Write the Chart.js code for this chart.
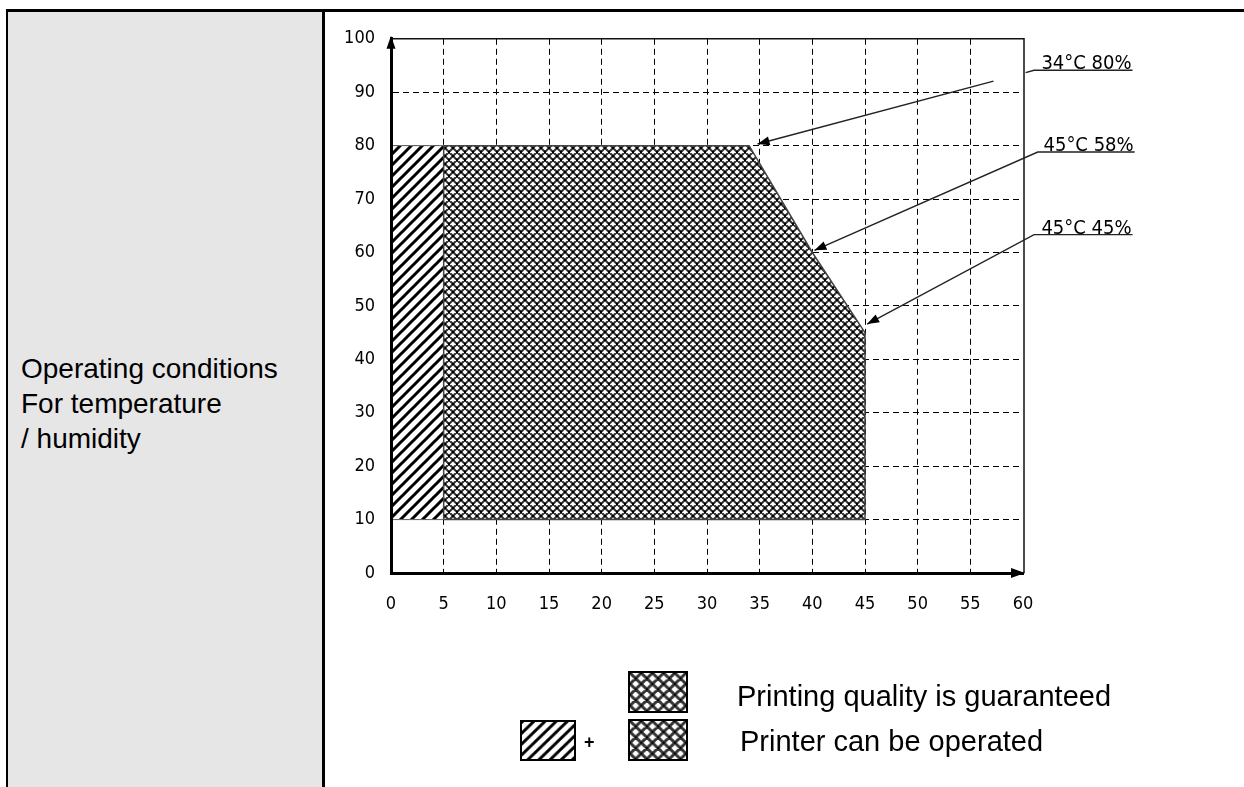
<!DOCTYPE html>
<html>
<head>
<meta charset="utf-8">
<script src="https://cdn.jsdelivr.net/npm/chart.js@4.4.1/dist/chart.umd.min.js"></script>
<style>
html,body{margin:0;padding:0;background:#fff;width:1244px;height:787px;overflow:hidden;position:relative;font-family:'Liberation Sans',Arial,sans-serif;color:#000;}
#topline{position:absolute;left:6px;top:9px;width:1238px;height:3px;background:#000;}
#leftline{position:absolute;left:6px;top:9px;width:2px;height:778px;background:#000;}
#panel{position:absolute;left:8px;top:12px;width:314px;height:775px;background:#e6e6e6;}
#divider{position:absolute;left:322px;top:9px;width:3px;height:778px;background:#000;}
#ptext{position:absolute;left:21px;top:351px;font-size:28px;line-height:35px;white-space:nowrap;}
#wrap{position:absolute;left:325px;top:12px;width:919px;height:775px;}
.ann{position:absolute;font-family:'Liberation Sans Narrow','DejaVu Sans Condensed','Liberation Sans',sans-serif;font-size:20px;line-height:20px;white-space:nowrap;transform:translate(-100%,0);}
.sw{position:absolute;box-sizing:border-box;border:2px solid #000;}
.ltext{position:absolute;font-size:29px;line-height:32px;white-space:nowrap;}
#plus{position:absolute;left:584px;top:733px;font-size:18px;font-weight:bold;line-height:18px;}
</style>
</head>
<body>
<div id="panel"></div>
<div id="topline"></div>
<div id="leftline"></div>
<div id="divider"></div>
<div id="ptext">Operating conditions<br>For temperature<br>/ humidity</div>
<div id="wrap"><canvas id="c" width="919" height="775"></canvas></div>
<canvas class="sw" id="sw1" width="60" height="42" style="left:628px;top:671px;width:60px;height:42px;"></canvas>
<canvas class="sw" id="sw3" width="56" height="41" style="left:520px;top:720px;width:56px;height:41px;"></canvas>
<canvas class="sw" id="sw2" width="60" height="42" style="left:628px;top:719px;width:60px;height:42px;"></canvas>
<div id="plus">+</div>
<div class="ltext" style="left:737px;top:680px;">Printing quality is guaranteed</div>
<div class="ltext" style="left:740px;top:725px;">Printer can be operated</div>
<script>
// ---- data ----
const xTicks = [0, 5, 10, 15, 20, 25, 30, 35, 40, 45, 50, 55, 60];
const yTicks = [0, 10, 20, 30, 40, 50, 60, 70, 80, 90, 100];
// "Printer can be operated" extra band (hatched)
const operatedX = [0, 0, 5, 5, 0];
const operatedY = [10, 80, 80, 10, 10];
// "Printing quality is guaranteed" region (cross-hatched)
const guaranteedX = [5, 5, 34, 40, 45, 45, 5];
const guaranteedY = [10, 80, 80, 60, 45, 10, 10];
// annotations
const annotationLabels = ['34°C 80%', '45°C 58%', '45°C 45%'];
const annotationTipX = [34.8, 40.2, 45.2];
const annotationTipY = [80.3, 60.4, 46.6];
const legendLabels = ['Printing quality is guaranteed', 'Printer can be operated'];

// ---- styling / layout (not data) ----
const tickFont = {family: "'Liberation Sans Narrow','DejaVu Sans Condensed','Liberation Sans',sans-serif", size: 18};
// leader-line elbows and underline ends in axis units (outside plot)
const leaderElbow = [[61.05, 94.1], [61.4, 78.8], [61.05, 63.35]];
const underlineEnd = [70.4, 70.6, 70.4];
const leaderGap = [[57.2, 60.25], null, null];

function makeCross(n, lw, col) {
  const c = document.createElement('canvas'); c.width = n; c.height = n;
  const g = c.getContext('2d');
  g.fillStyle = '#fff'; g.fillRect(0, 0, n, n);
  g.strokeStyle = col; g.lineWidth = lw;
  g.beginPath();
  for (const k of [-n, 0, n]) { g.moveTo(k - 2, -2); g.lineTo(k + n + 2, n + 2); }
  for (const k of [0, n, 2 * n]) { g.moveTo(k + 2, -2); g.lineTo(k - n - 2, n + 2); }
  g.stroke();
  g.fillStyle = '#000';
  const d = 2;
  [[0, 0], [n, 0], [0, n], [n, n], [n / 2, n / 2]].forEach(p => g.fillRect(p[0] - d / 2, p[1] - d / 2, d, d));
  return c;
}
function makeHatch(n, lw) {
  const c = document.createElement('canvas'); c.width = n; c.height = n;
  const g = c.getContext('2d');
  g.fillStyle = '#fff'; g.fillRect(0, 0, n, n);
  g.strokeStyle = '#000'; g.lineWidth = lw;
  g.beginPath();
  [[-2, n + 2, n + 2, -2], [-2, 2, 2, -2], [n - 2, n + 2, n + 2, n - 2]].forEach(s => { g.moveTo(s[0], s[1]); g.lineTo(s[2], s[3]); });
  g.stroke();
  return c;
}
const mainCtx = document.getElementById('c').getContext('2d');
const crossPattern = mainCtx.createPattern(makeCross(8, 2.1, '#333'), 'repeat');
const hatchPattern = mainCtx.createPattern(makeHatch(11, 3), 'repeat');

function fillSwatch(id, tile) {
  const cv = document.getElementById(id);
  const g = cv.getContext('2d');
  g.fillStyle = g.createPattern(tile, 'repeat');
  g.fillRect(0, 0, cv.width, cv.height);
}
fillSwatch('sw1', makeCross(12, 3.2, '#333'));
fillSwatch('sw2', makeCross(12, 3.2, '#333'));
fillSwatch('sw3', makeHatch(12, 3.2));

// annotation label elements
const annDivs = annotationLabels.map(t => {
  const d = document.createElement('div');
  d.className = 'ann'; d.textContent = t;
  document.getElementById('wrap').appendChild(d);
  return d;
});

function arrowHead(ctx, tx, ty, fx, fy, len, hw) {
  const ang = Math.atan2(ty - fy, tx - fx);
  const bx = tx - len * Math.cos(ang), by = ty - len * Math.sin(ang);
  ctx.beginPath();
  ctx.moveTo(tx, ty);
  ctx.lineTo(bx + hw * Math.sin(ang), by - hw * Math.cos(ang));
  ctx.lineTo(bx - hw * Math.sin(ang), by + hw * Math.cos(ang));
  ctx.closePath();
  ctx.fill();
}

const decorPlugin = {
  id: 'decor',
  afterDraw(chart) {
    const {ctx, chartArea: a, scales: {x, y}} = chart;
    ctx.save();
    // plot frame (top + right)
    ctx.strokeStyle = '#111'; ctx.lineWidth = 1.5;
    ctx.beginPath();
    ctx.moveTo(a.left, a.top); ctx.lineTo(a.right + 1, a.top); ctx.lineTo(a.right + 1, a.bottom);
    ctx.stroke();
    // axis arrows
    ctx.fillStyle = '#000';
    const x0 = x.getPixelForValue(xTicks[0]);
    const y0 = y.getPixelForValue(yTicks[0]);
    arrowHead(ctx, x0, a.top - 3, x0, a.top + 20, 13, 4.5);
    arrowHead(ctx, a.right + 2, y0, a.right - 20, y0, 14, 5);
    // leader lines
    ctx.strokeStyle = '#222'; ctx.lineWidth = 1.4; ctx.fillStyle = '#000';
    for (let i = 0; i < annotationLabels.length; i++) {
      const tx = x.getPixelForValue(annotationTipX[i]);
      const ty = y.getPixelForValue(annotationTipY[i]);
      const ex = x.getPixelForValue(leaderElbow[i][0]);
      const ey = y.getPixelForValue(leaderElbow[i][1]);
      const ux = x.getPixelForValue(underlineEnd[i]);
      ctx.beginPath();
      ctx.moveTo(tx, ty);
      if (leaderGap[i]) {
        const g1 = x.getPixelForValue(leaderGap[i][0]);
        const g2 = x.getPixelForValue(leaderGap[i][1]);
        const yAt = px => ty + (ey - ty) * (px - tx) / (ex - tx);
        ctx.lineTo(g1, yAt(g1));
        ctx.moveTo(g2, yAt(g2));
      }
      ctx.lineTo(ex, ey);
      ctx.lineTo(ux, ey);
      ctx.stroke();
      arrowHead(ctx, tx, ty, ex, ey, 12, 4.5);
      const d = annDivs[i];
      d.style.left = (ux - 1) + 'px';
      d.style.top = (ey - 18) + 'px';
    }
    ctx.restore();
  }
};

const gridColor = (max) => (c) => (c.tick && (c.tick.value === 0 || c.tick.value === max)) ? 'rgba(0,0,0,0)' : '#000';

new Chart(mainCtx, {
  type: 'scatter',
  data: {
    datasets: [
      {
        label: legendLabels[0],
        data: guaranteedX.map((v, i) => ({x: v, y: guaranteedY[i]})),
        showLine: true, fill: 'shape', tension: 0,
        backgroundColor: crossPattern, borderColor: '#444', borderWidth: 1.5,
        pointRadius: 0, pointHoverRadius: 0
      },
      {
        label: legendLabels[1],
        data: operatedX.map((v, i) => ({x: v, y: operatedY[i]})),
        showLine: true, fill: 'shape', tension: 0,
        backgroundColor: hatchPattern, borderColor: '#666', borderWidth: 1,
        pointRadius: 0, pointHoverRadius: 0
      }
    ]
  },
  options: {
    responsive: false,
    animation: false,
    devicePixelRatio: 1,
    layout: {padding: {left: 0, top: 18, right: 221, bottom: 174}},
    plugins: {legend: {display: false}, tooltip: {enabled: false}},
    scales: {
      x: {
        type: 'linear', min: 0, max: 60,
        afterBuildTicks: s => { s.ticks = xTicks.map(v => ({value: v})); },
        afterFit: s => { s.height = 40; },
        grid: {color: gridColor(60), lineWidth: 1, drawTicks: false},
        border: {display: true, color: '#000', width: 3, dash: [6, 4], z: 1},
        ticks: {color: '#000', font: tickFont, padding: 21, maxRotation: 0, autoSkip: false}
      },
      y: {
        type: 'linear', min: 0, max: 100,
        afterBuildTicks: s => { s.ticks = yTicks.map(v => ({value: v})); },
        afterFit: s => { s.width = 66; },
        grid: {color: gridColor(100), lineWidth: 1, drawTicks: false},
        border: {display: true, color: '#000', width: 3, dash: [6, 4], z: 1},
        ticks: {color: '#000', font: tickFont, padding: 16, autoSkip: false}
      }
    }
  },
  plugins: [decorPlugin]
});
</script>
</body>
</html>
